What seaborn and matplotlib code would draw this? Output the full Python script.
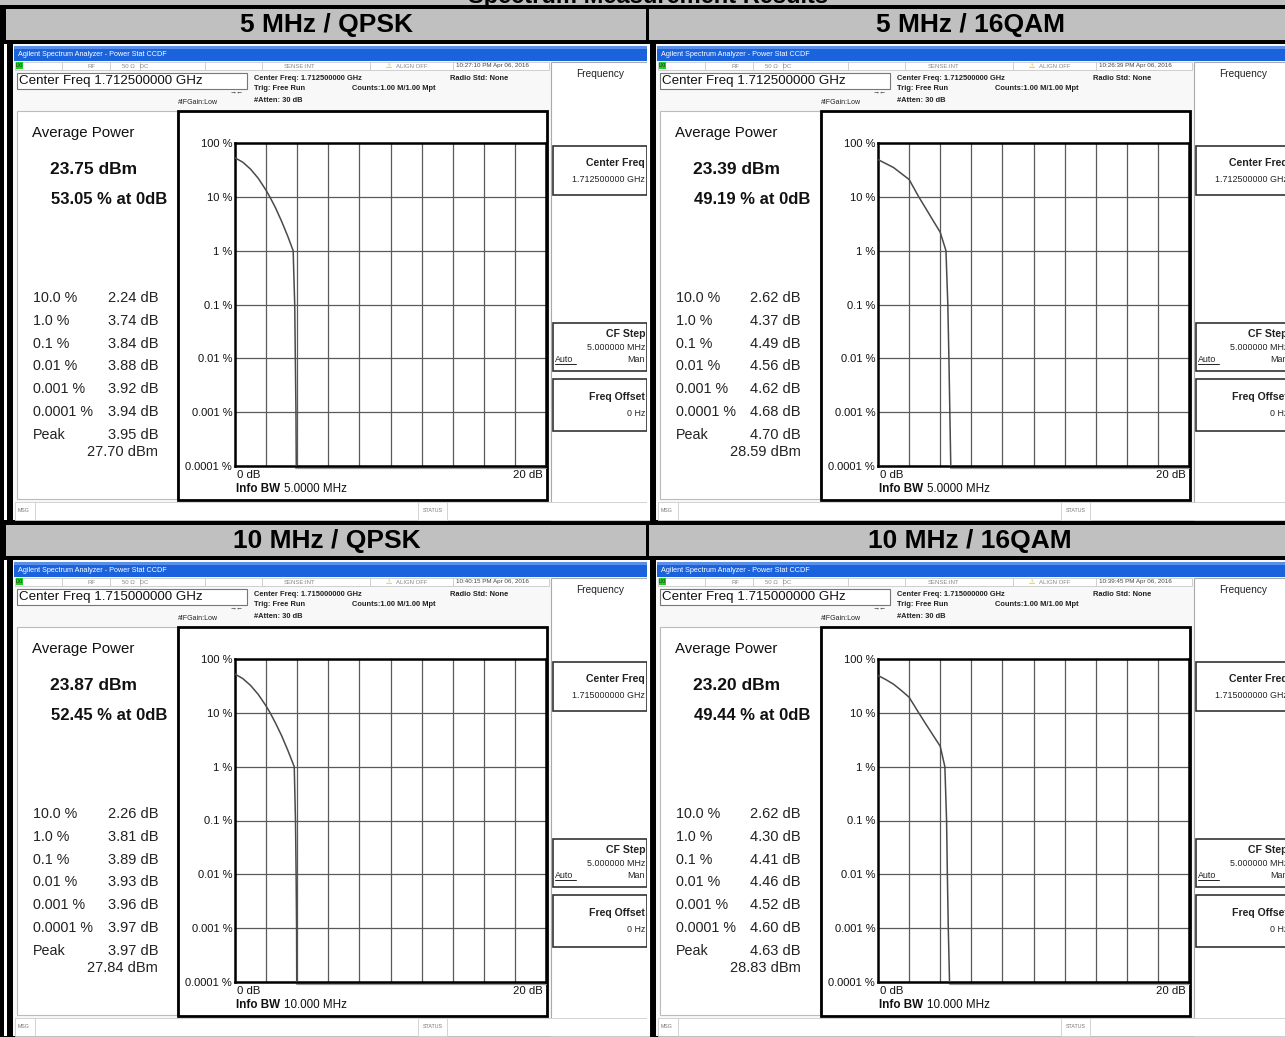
import matplotlib
matplotlib.use("Agg")
import matplotlib.pyplot as plt
import matplotlib.patches as mpatches
import seaborn as sns
import pandas as pd

sns.set_theme(style="white")
plt.rcParams['font.family'] = ['Liberation Sans', 'DejaVu Sans']

# Datos de las cuatro capturas CCDF
panel_titles = ["5 MHz / QPSK", "5 MHz / 16QAM", "10 MHz / QPSK", "10 MHz / 16QAM"]
center_freqs = ["1.712500000", "1.712500000", "1.715000000", "1.715000000"]
timestamps = ["10:27:10 PM Apr 06, 2016", "10:26:39 PM Apr 06, 2016",
              "10:40:15 PM Apr 06, 2016", "10:39:45 PM Apr 06, 2016"]
info_bw = ["5.0000 MHz", "5.0000 MHz", "10.000 MHz", "10.000 MHz"]
cf_step = ["5.000000 MHz", "5.000000 MHz", "5.000000 MHz", "5.000000 MHz"]
avg_power = ["23.75 dBm", "23.39 dBm", "23.87 dBm", "23.20 dBm"]
avg_pct = ["53.05 % at 0dB", "49.19 % at 0dB", "52.45 % at 0dB", "49.44 % at 0dB"]
prob_labels = ["10.0 %", "1.0 %", "0.1 %", "0.01 %", "0.001 %", "0.0001 %", "Peak"]
prob_db = [
    [2.24, 3.74, 3.84, 3.88, 3.92, 3.94, 3.95],
    [2.62, 4.37, 4.49, 4.56, 4.62, 4.68, 4.70],
    [2.26, 3.81, 3.89, 3.93, 3.96, 3.97, 3.97],
    [2.62, 4.30, 4.41, 4.46, 4.52, 4.60, 4.63],
]
peak_dbm = ["27.70 dBm", "28.59 dBm", "27.84 dBm", "28.83 dBm"]

# Trazas CCDF (dB sobre potencia media, probabilidad en %)
ccdf_db = [
    [0, 0.5, 1.0, 1.5, 2.0, 2.24, 2.6, 3.0, 3.4, 3.74, 3.84, 3.88, 3.92, 3.94, 3.95],
    [0, 0.5, 1.0, 1.5, 2.0, 2.62, 3.0, 3.5, 4.0, 4.37, 4.49, 4.56, 4.62, 4.68, 4.70],
    [0, 0.5, 1.0, 1.5, 2.0, 2.26, 2.6, 3.0, 3.4, 3.81, 3.89, 3.93, 3.96, 3.97, 3.97],
    [0, 0.5, 1.0, 1.5, 2.0, 2.62, 3.0, 3.5, 4.0, 4.30, 4.41, 4.46, 4.52, 4.60, 4.63],
]
ccdf_pct = [
    [53.05, 44, 32.7, 22, 13.2, 10, 6.3, 3.5, 1.83, 1.0, 0.1, 0.01, 0.001, 0.0001, 0.0001],
    [49.19, 41.5, 35, 27.1, 21, 10, 6.6, 3.8, 2.2, 1.0, 0.1, 0.01, 0.001, 0.0001, 0.0001],
    [52.45, 43.3, 32.3, 21.9, 13.4, 10, 6.5, 3.75, 2.0, 1.0, 0.1, 0.01, 0.001, 0.0001, 0.0001],
    [49.44, 41.5, 34, 26, 19.5, 10, 6.7, 4.0, 2.4, 1.0, 0.1, 0.01, 0.001, 0.0001, 0.0001],
]
ytick_vals = [100, 10, 1, 0.1, 0.01, 0.001, 0.0001]
ytick_text = ["100 %", "10 %", "1 %", "0.1 %", "0.01 %", "0.001 %", "0.0001 %"]

W, H = 1285, 1037
fig = plt.figure(figsize=(W / 100, H / 100), dpi=100)
fig.patch.set_facecolor("black")
bg = fig.add_axes([0, 0, 1, 1])
bg.set_xlim(0, W)
bg.set_ylim(H, 0)
bg.axis("off")


def rect(x0, y0, x1, y1, fc, ec="none", lw=0, z=1):
    bg.add_patch(mpatches.Rectangle((x0, y0), x1 - x0, y1 - y0, facecolor=fc,
                                    edgecolor=ec, linewidth=lw, zorder=z))


def txt(x, y, s, size, ha="left", weight="normal", color="#111111", **kw):
    bg.text(x, y, s, fontsize=size, ha=ha, va="center", fontweight=weight,
            color=color, zorder=5, **kw)


# titulo general (cortado arriba)
rect(0, 0, W, 5, "#c0c0c0")
bg.text(648, 3, "Spectrum Measurement Results", fontsize=17, fontweight="bold",
        ha="center", va="baseline", color="black", zorder=2)
rect(0, 5, W, 9, "black", z=3)

for i in range(4):
    ox = (i % 2) * 643
    oy = (i // 2) * 516

    # cabecera gris
    rect(6 + ox, 9 + oy, 646 + ox, 40 + oy, "#c0c0c0", z=4)
    txt(327 + ox, 25 + oy, panel_titles[i], 19, ha="center", weight="bold", color="black")

    # captura del analizador
    rect(4 + ox, 44 + oy, 7 + ox, 520 + oy, "white")
    rect(13 + ox, 44 + oy, 649 + ox, 520 + oy, "#f8f8f8")
    rect(14 + ox, 46 + oy, 649 + ox, 61 + oy, "#1b62dd")
    rect(14 + ox, 46 + oy, 649 + ox, 49 + oy, "#5a8fe9")
    txt(18 + ox, 54 + oy, "Agilent Spectrum Analyzer - Power Stat CCDF", 5.2, color="white")

    # fila de estado
    rect(15 + ox, 62 + oy, 549 + ox, 70 + oy, "white", ec="#c8c8c8", lw=0.6)
    for xd in [62, 110, 140, 205, 262, 370, 453]:
        bg.plot([xd + ox, xd + ox], [62 + oy, 70 + oy], color="#c8c8c8", lw=0.6, zorder=2)
    rect(16 + ox, 62 + oy, 23 + ox, 69 + oy, "#22cc22")
    txt(19.5 + ox, 65.5 + oy, "LXI", 3.5, ha="center", color="#222")
    txt(92 + ox, 66 + oy, "RF", 4.3, ha="center", color="#888")
    txt(122 + ox, 66 + oy, "50 \u03a9   DC", 4.3, color="#888")
    txt(300 + ox, 66 + oy, "SENSE:INT", 4.3, ha="center", color="#888")
    txt(386 + ox, 66 + oy, "\u26a0", 5, color="#d8b000")
    txt(396 + ox, 66 + oy, "ALIGN OFF", 4.3, color="#888")
    txt(456 + ox, 66 + oy, timestamps[i], 4.5, color="#444")

    # frecuencia central y ajustes
    rect(17 + ox, 73 + oy, 247 + ox, 89 + oy, "white", ec="#777777", lw=0.8)
    txt(19 + ox, 81 + oy, "Center Freq " + center_freqs[i] + " GHz", 9.6, color="#111")
    txt(254 + ox, 78 + oy, "Center Freq: " + center_freqs[i] + " GHz", 5.4, weight="bold", color="#222")
    txt(450 + ox, 78 + oy, "Radio Std: None", 5.4, weight="bold", color="#222")
    txt(254 + ox, 89 + oy, "Trig: Free Run", 5.4, weight="bold", color="#222")
    txt(352 + ox, 89 + oy, "Counts:1.00 M/1.00 Mpt", 5.4, weight="bold", color="#222")
    txt(254 + ox, 100 + oy, "#Atten: 30 dB", 5.4, weight="bold", color="#222")
    txt(178 + ox, 102 + oy, "#IFGain:Low", 5.0, color="#222")
    txt(237 + ox, 92 + oy, "\u2192\u2190", 5, ha="center", color="#222")

    # teclas laterales
    rect(551 + ox, 62 + oy, 649 + ox, 520 + oy, "white", ec="#aaaaaa", lw=0.8)
    txt(600 + ox, 74 + oy, "Frequency", 7.3, ha="center", color="#222")
    rect(553 + ox, 146 + oy, 647 + ox, 195 + oy, "white", ec="#333333", lw=1.2)
    txt(645 + ox, 163 + oy, "Center Freq", 7.6, ha="right", weight="bold", color="#222")
    txt(645 + ox, 179 + oy, center_freqs[i] + " GHz", 6.4, ha="right", color="#222")
    rect(553 + ox, 323 + oy, 647 + ox, 371 + oy, "white", ec="#333333", lw=1.2)
    txt(645 + ox, 334 + oy, "CF Step", 7.6, ha="right", weight="bold", color="#222")
    txt(645 + ox, 347 + oy, cf_step[i], 6.4, ha="right", color="#222")
    txt(555 + ox, 359 + oy, "Auto", 6.4, color="#222")
    bg.plot([555 + ox, 576 + ox], [364 + oy, 364 + oy], color="#222", lw=0.7, zorder=5)
    txt(645 + ox, 359 + oy, "Man", 6.4, ha="right", color="#222")
    rect(553 + ox, 379 + oy, 647 + ox, 431 + oy, "white", ec="#333333", lw=1.2)
    txt(645 + ox, 397 + oy, "Freq Offset", 7.6, ha="right", weight="bold", color="#222")
    txt(645 + ox, 413 + oy, "0 Hz", 6.4, ha="right", color="#222")

    # panel de resultados
    rect(17 + ox, 111 + oy, 177 + ox, 499 + oy, "white", ec="#bbbbbb", lw=0.8)
    txt(32 + ox, 133 + oy, "Average Power", 10.8, color="#111")
    txt(50 + ox, 170 + oy, avg_power[i], 12.5, weight="bold", color="#111")
    txt(51 + ox, 200 + oy, avg_pct[i], 12, weight="bold", color="#111")
    for k, lab in enumerate(prob_labels):
        yy = 298 + k * 22.8 + oy
        txt(33 + ox, yy, lab, 10.3, color="#222")
        txt(158 + ox, yy, "%.2f dB" % prob_db[i][k], 10.5, ha="right", color="#222")
    txt(158 + ox, 452 + oy, peak_dbm[i], 10.5, ha="right", color="#222")

    # recuadro del grafico
    rect(178 + ox, 111 + oy, 547 + ox, 500 + oy, "white", ec="black", lw=2)
    txt(237 + ox, 475 + oy, "0 dB", 8.2, color="#111")
    txt(543 + ox, 475 + oy, "20 dB", 8.2, ha="right", color="#111")
    txt(236 + ox, 489 + oy, "Info BW", 8.4, weight="bold", color="#111")
    txt(284 + ox, 489 + oy, info_bw[i], 8.4, color="#111")

    # barra MSG / STATUS
    rect(15 + ox, 502 + oy, 649 + ox, 520 + oy, "white", ec="#cccccc", lw=0.6)
    bg.plot([35 + ox, 35 + ox], [502 + oy, 520 + oy], color="#cccccc", lw=0.6, zorder=2)
    txt(18 + ox, 510 + oy, "MSG", 3.8, color="#777")
    rect(418 + ox, 502 + oy, 447 + ox, 520 + oy, "white", ec="#cccccc", lw=0.6)
    txt(432.5 + ox, 510 + oy, "STATUS", 3.8, ha="center", color="#777")

    # grafico CCDF
    ax = fig.add_axes([(235 + ox) / W, 1 - (466 + oy) / H, 311 / W, 323 / H])
    df = pd.DataFrame({"db": ccdf_db[i], "pct": ccdf_pct[i]})
    ax.set_yscale("log")
    sns.lineplot(data=df, x="db", y="pct", ax=ax, color="#4a4a4a", lw=1.1,
                 sort=False, estimator=None, zorder=3)
    tail = pd.DataFrame({"db": [ccdf_db[i][-1], 20], "pct": [0.0001 * 0.92] * 2})
    sns.lineplot(data=tail, x="db", y="pct", ax=ax, color="#9a9a9a", lw=1.6,
                 sort=False, estimator=None, zorder=2)
    for line in ax.lines[-1:]:
        line.set_clip_on(False)
    ax.set_xlim(0, 20)
    ax.set_ylim(0.0001, 100)
    ax.minorticks_off()
    ax.set_xticks(range(0, 21, 2))
    ax.set_xticklabels([])
    ax.set_yticks(ytick_vals)
    ax.set_yticklabels(ytick_text, fontsize=8, color="#111")
    ax.tick_params(length=0, pad=2)
    ax.set_xlabel("")
    ax.set_ylabel("")
    ax.grid(True, color="#5a5a5a", lw=0.9)
    ax.set_axisbelow(True)
    for sp in ax.spines.values():
        sp.set_color("black")
        sp.set_linewidth(1.8)
    ax.set_facecolor("white")

plt.savefig("out.png", dpi=100, facecolor=fig.get_facecolor())
